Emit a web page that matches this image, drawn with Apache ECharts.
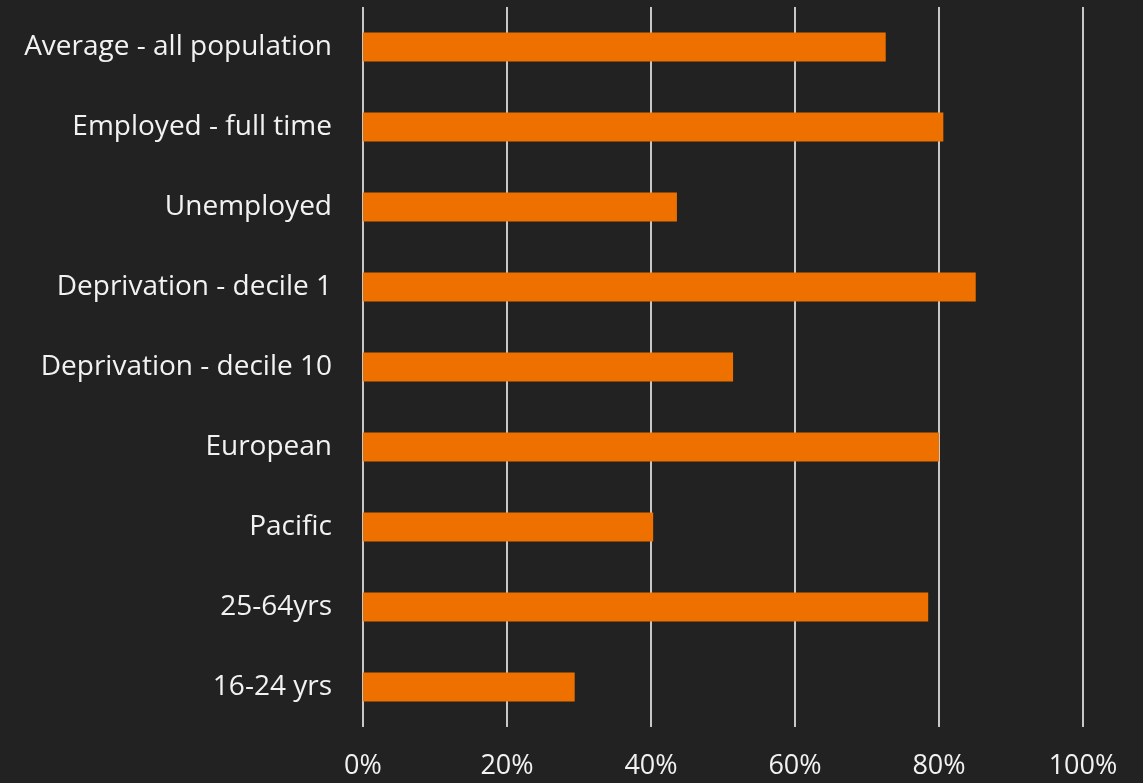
<!DOCTYPE html>
<html>
<head>
<meta charset="utf-8">
<script src="https://cdn.jsdelivr.net/npm/echarts@6/dist/echarts.min.js"></script>
<style>
html,body{margin:0;padding:0;background:#222222;}
#chart{width:1143px;height:783px;}
</style>
</head>
<body>
<div id="chart"></div>
<script>
const categories = ["Average - all population","Employed - full time","Unemployed","Deprivation - decile 1","Deprivation - decile 10","European","Pacific","25-64yrs","16-24 yrs"];
const values = [72.6, 80.6, 43.6, 85.1, 51.4, 80.0, 40.3, 78.5, 29.4];
const xTicks = [0, 20, 40, 60, 80, 100];

const chart = echarts.init(document.getElementById('chart'));
chart.setOption({
  backgroundColor: '#222222',
  animation: false,
  grid: { left: 363, right: 60, top: 7, bottom: 56, containLabel: false },
  xAxis: {
    type: 'value', min: 0, max: 100, interval: 20,
    axisLine: { show: false }, axisTick: { show: false },
    splitLine: { show: true, lineStyle: { color: '#c8c8c8', width: 2 } },
    axisLabel: { color: '#f2f2f2', fontSize: 27, fontFamily: 'Open Sans', margin: 26,
      formatter: v => xTicks.includes(v) ? v + '%' : '' }
  },
  yAxis: {
    type: 'category', data: categories, inverse: true,
    axisLine: { show: false }, axisTick: { show: false },
    axisLabel: { color: '#f2f2f2', fontSize: 28, fontFamily: 'Open Sans', margin: 31,
      padding: [4, 0, 0, 0] }
  },
  series: [{
    type: 'bar', data: values, barWidth: 29,
    itemStyle: { color: '#EE7100' }
  }]
});
</script>
</body>
</html>
